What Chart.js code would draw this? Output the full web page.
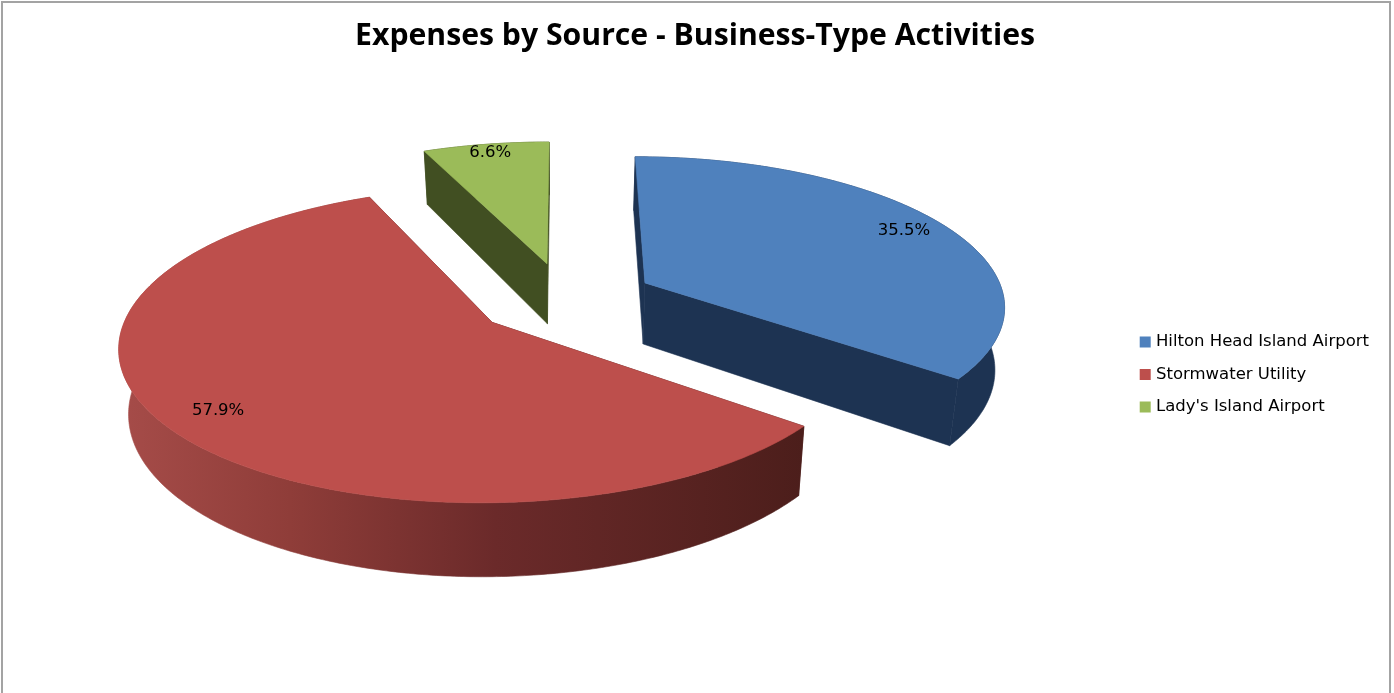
<!DOCTYPE html>
<html>
<head>
<meta charset="utf-8">
<title>Expenses by Source</title>
<script src="https://cdn.jsdelivr.net/npm/chart.js@4"></script>
<style>
  html, body { margin: 0; background: #fff; overflow: hidden; }
  #wrap { position: relative; width: 1394px; height: 693px; }
  #frame { position: absolute; left: 1px; top: 1px; width: 1386px; height: 700px; border: 2px solid #a3a3a3; }
  canvas { position: absolute; left: 0; top: 0; }
</style>
</head>
<body>
<div id="wrap">
  <div id="frame"></div>
  <canvas id="pie" width="1394" height="693"></canvas>
</div>
<script>
const categories = ['Hilton Head Island Airport', 'Stormwater Utility', "Lady's Island Airport"];
const shares = [35.5, 57.9, 6.6];

const topColors = ['#4f81bd', '#bd4f4c', '#9bbb59'];
const cutColors = ['#1d3352', '#4c1e1b', '#414f22'];

// rim shading runs left to right across the screen
const rimStops = [
  [[0, '#1d3352'], [1, '#1d3352']],
  [[0, '#a64c49'], [0.25, '#8f3d39'], [0.55, '#6b2a2a'], [1, '#4c1e1b']],
  [[0, '#414f22'], [1, '#414f22']]
];

// how far along its radius each percent label sits
const labelAt = [0.87, 0.855, 0.92];

// perspective of the pie plane
const view = { cx: 565, cy: 299, rx: 360, ry: 148, k: 0.14, depth: 62, taper: 0.022 };

function project(u, v) {
  const w = 1 - view.k * v;
  return { x: view.cx + view.rx * u / w, y: view.cy + view.ry * v / w, w };
}
function lower(p) {
  return { x: view.cx + (p.x - view.cx) * (1 - view.taper), y: p.y + view.depth / p.w };
}
function paintPoly(ctx, pts, paint) {
  ctx.beginPath();
  pts.forEach((p, i) => i ? ctx.lineTo(p.x, p.y) : ctx.moveTo(p.x, p.y));
  ctx.closePath();
  ctx.fillStyle = paint;
  ctx.strokeStyle = paint;
  ctx.lineWidth = 0.6;
  ctx.fill();
  ctx.stroke();
}

// Chart.js works out the slices; this paints them tilted instead of flat
const tiltedPie = {
  id: 'tiltedPie',
  beforeDatasetDraw(chart, args) {
    const ctx = chart.ctx;
    const arcs = chart.getDatasetMeta(args.index).data;
    ctx.save();
    arcs.forEach((el, i) => {
      const e = el.options.offset / el.outerRadius;
      const mid = (el.startAngle + el.endAngle) / 2;
      const ou = e * Math.cos(mid), ov = e * Math.sin(mid);
      const apex = project(ou, ov);
      const rim = [];
      const steps = Math.ceil((el.endAngle - el.startAngle) * 90);
      for (let s = 0; s <= steps; s++) {
        const a = el.startAngle + (el.endAngle - el.startAngle) * s / steps;
        rim.push(project(ou + Math.cos(a), ov + Math.sin(a)));
      }
      const first = rim[0], last = rim[rim.length - 1];

      // cut faces
      paintPoly(ctx, [apex, first, lower(first), lower(apex)], cutColors[i]);
      paintPoly(ctx, [apex, last, lower(last), lower(apex)], cutColors[i]);

      // outer wall
      const xs = rim.map(p => p.x);
      const g = ctx.createLinearGradient(Math.min(...xs), 0, Math.max(...xs), 0);
      rimStops[i].forEach(s => g.addColorStop(s[0], s[1]));
      paintPoly(ctx, rim.concat(rim.map(lower).reverse()), g);

      // top face
      paintPoly(ctx, [apex].concat(rim), topColors[i]);
    });

    ctx.fillStyle = '#000';
    ctx.font = '16.5px "DejaVu Sans"';
    ctx.textAlign = 'center';
    ctx.textBaseline = 'middle';
    arcs.forEach((el, i) => {
      const e = el.options.offset / el.outerRadius;
      const mid = (el.startAngle + el.endAngle) / 2;
      const p = project((e + labelAt[i]) * Math.cos(mid), (e + labelAt[i]) * Math.sin(mid));
      ctx.fillText(shares[i].toFixed(1) + '%', p.x, p.y);
    });
    ctx.restore();
    return false;
  }
};

new Chart(document.getElementById('pie'), {
  type: 'pie',
  plugins: [tiltedPie],
  data: {
    labels: categories,
    datasets: [{
      data: shares,
      backgroundColor: topColors,
      borderWidth: 0,
      offset: 67
    }]
  },
  options: {
    responsive: false,
    animation: false,
    layout: { padding: { left: 11, right: 15, bottom: 18 } },
    plugins: {
      title: {
        display: true,
        text: 'Expenses by Source - Business-Type Activities',
        color: '#000',
        font: { family: '"Open Sans"', size: 30.2, weight: 'bold' },
        padding: { top: 18, bottom: 20 }
      },
      legend: {
        position: 'right',
        fullSize: false,
        labels: {
          color: '#000',
          font: { family: '"DejaVu Sans"', size: 16.5 },
          usePointStyle: true,
          pointStyle: 'rect',
          boxWidth: 5,
          boxHeight: 11,
          padding: 16
        }
      },
      tooltip: { enabled: false }
    }
  }
});
</script>
</body>
</html>
